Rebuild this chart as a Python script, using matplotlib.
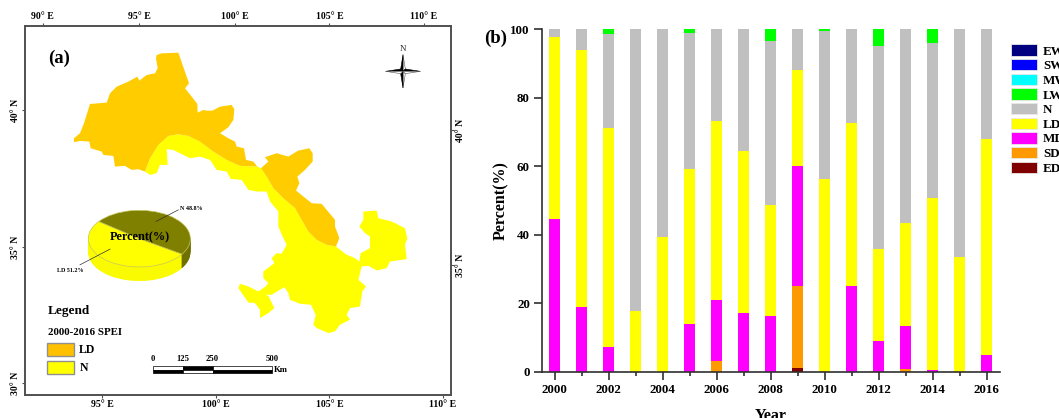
import matplotlib
matplotlib.use("Agg")
import matplotlib.pyplot as plt
from matplotlib.patches import Polygon, Rectangle, Patch

plt.rcParams['font.family'] = ['Liberation Serif', 'DejaVu Serif']
plt.rcParams['font.weight'] = 'bold'

W, H = 1059, 418
# ---------- bar chart data ----------
years = list(range(2000, 2017))
ED = [0, 0, 0, 0, 0, 0, 0, 0, 0, 1, 0, 0, 0, 0, 0, 0, 0]
SD = [0, 0, 0, 0, 0, 0, 3, 0, 0, 24, 0, 0, 0, 0.8, 0, 0, 0]
MD = [44.5, 18.8, 7.3, 0, 0, 13.9, 17.8, 17, 16.4, 35, 0, 25, 8.9, 12.5, 0.5, 0, 5]
LD = [53.3, 75.1, 63.9, 17.7, 39.3, 45.3, 52.3, 47.5, 32.3, 28, 56.3, 47.5, 26.9, 30, 50.2, 33.5, 63]
N = [2.2, 6.1, 27.4, 82.3, 60.7, 39.8, 26.9, 35.5, 47.9, 12, 43.3, 27.5, 59.2, 56.7, 45.4, 66.5, 32]
LW = [0, 0, 1.4, 0, 0, 1, 0, 0, 3.4, 0, 0.4, 0, 5, 0, 3.9, 0, 0]
MW = [0] * 17
SW = [0] * 17
EW = [0] * 17
class_names = ['ED', 'SD', 'MD', 'LD', 'N', 'LW', 'MW', 'SW', 'EW']
class_values = [ED, SD, MD, LD, N, LW, MW, SW, EW]
class_colors = ['#800000', '#FF9900', '#FF00FF', '#FFFF00', '#C0C0C0', '#00FF00', '#00FFFF', '#0000FF', '#000080']

# ---------- map data (traced outline coordinates) ----------
ld_west = [(470,165),(485,160),(535,158),(567,250),(555,265),(575,290),(592,312),(593,338),(610,330),(620,332),
           (638,332),(660,320),(695,315),(703,328),(700,360),(685,382),(660,400),(685,415),(705,425),(710,440),
           (732,445),(738,480),(760,485),(772,500),(720,498),(680,480),(640,455),(600,425),(565,408),(535,403),
           (505,408),(475,435),(450,475),(435,515),(415,508),(395,510),(375,498),(345,500),(340,468),(310,465),
           (305,455),(272,445),(268,425),(240,423),(222,427),(222,415),(240,400),(252,370),(270,312),(320,308),
           (330,280),(350,260),(385,245),(412,230),(418,242),(440,225),(465,220),(473,205),(468,175)]
ld_east = [(805,485),(795,472),(830,460),(865,470),(895,452),(928,445),(938,460),(938,485),(915,510),(892,530),
           (898,550),(888,572),(910,590),(935,610),(965,612),(980,630),(1005,660),(1005,680),(1018,715),(1008,740),
           (980,735),(950,720),(925,695),(905,660),(885,625),(850,595),(820,565),(800,530),(783,505)]
n_region = [(435,515),(450,475),(475,435),(505,408),(535,403),(565,408),(600,425),(640,455),(680,480),(720,498),
            (772,500),(783,505),(800,530),(820,565),(850,595),(885,625),(905,660),(925,695),(950,720),(980,735),
            (1008,740),(1040,765),(1065,775),(1078,785),(1082,760),(1110,745),(1110,710),(1095,700),(1078,680),
            (1090,660),(1090,635),(1130,632),(1135,655),(1175,665),(1215,685),(1222,715),(1215,735),(1220,778),
            (1170,785),(1160,805),(1130,812),(1105,798),(1085,800),(1075,840),(1098,860),(1087,875),(1080,920),
            (1050,925),(1040,945),(1050,960),(1020,975),(1005,995),(985,1000),(950,985),(940,975),(947,945),
            (933,915),(900,912),(870,900),(865,880),(853,862),(815,885),(795,885),(805,888),(823,925),(805,940),
            (780,955),(780,930),(765,910),(745,908),(715,865),(720,852),(745,860),(775,875),(797,860),(805,850),
            (790,835),(790,815),(823,790),(815,775),(830,760),(845,762),(860,735),(850,715),(835,680),(835,635),
            (810,605),(800,575),(770,575),(745,570),(725,540),(692,537),(680,515),(650,510),(630,480),(600,470),
            (570,475),(540,460),(520,450),(500,448),(503,495),(480,495),(470,520),(450,525)]
pie_values = [51.2, 48.8]
pie_colors = ['#FFFF00', '#808000']

bottom_lon_pos = [307, 648, 988, 1328]
bottom_lon_lab = ['95° E', '100° E', '105° E', '110° E']
top_lon_pos = [128, 417, 704, 988, 1272]
top_lon_lab = ['90° E', '95° E', '100° E', '105° E', '110° E']
left_lat_pos = [330, 742, 1150]
left_lat_lab = ['40° N', '35° N', '30° N']
right_lat_pos = [390, 797]
right_lat_lab = ['40° N', '35° N']
scale_pos = [458, 548, 638, 817]
scale_lab = ['0', '125', '250', '500']


def px_axes(left, top, right, bottom, **kw):
    return fig.add_axes([left / W, 1 - bottom / H, (right - left) / W, (bottom - top) / H], **kw)


fig = plt.figure(figsize=(W / 100, H / 100), dpi=100, facecolor='white')

# ---------- panel (a) ----------
ax = px_axes(24.5, 25.7, 451, 395)
FRAME = '#505050'
xl, yl = (73.5, 1353), (1186, 77)
ax.set_xlim(xl)
ax.set_ylim(yl)
for s in ax.spines.values():
    s.set_linewidth(1.4)
    s.set_color(FRAME)
ax.add_patch(Polygon(n_region, closed=True, fc='#FFFF00', ec='none'))
ax.add_patch(Polygon(ld_west, closed=True, fc='#FFCC00', ec='none'))
ax.add_patch(Polygon(ld_east, closed=True, fc='#FFCC00', ec='none'))

TICK = dict(length=2, width=0.8, color=FRAME, labelsize=7.0, pad=1.5)
ax.set_xticks(bottom_lon_pos, bottom_lon_lab)
ax.set_yticks(left_lat_pos, left_lat_lab, rotation=90, va='center')
ax.tick_params(**TICK)
axt = ax.twiny()
axt.set_xlim(xl)
axt.set_xticks(top_lon_pos, top_lon_lab)
axt.tick_params(**TICK)
axr = ax.twinx()
axr.set_ylim(yl)
axr.set_yticks(right_lat_pos, right_lat_lab, rotation=90, va='center')
axr.tick_params(**TICK)
for a in (axt, axr):
    for s in a.spines.values():
        s.set_visible(False)

ax.text(143, 176, '(a)', fontsize=13.5, va='center', ha='left')
# legend
ax.text(144, 933, 'Legend', fontsize=9.5, va='center', ha='left')
ax.text(143, 997, '2000-2016 SPEI', fontsize=7.8, va='center', ha='left')
ax.add_patch(Rectangle((142, 1030), 81, 39, fc='#FFC000', ec='#909090', lw=1))
ax.add_patch(Rectangle((142, 1085), 81, 39, fc='#FFFF00', ec='#909090', lw=1))
ax.text(238, 1050, 'LD', fontsize=8.5, va='center', ha='left')
ax.text(238, 1105, 'N', fontsize=8.5, va='center', ha='left')
# scale bar
for i in range(3):
    x0, x1 = scale_pos[i], scale_pos[i + 1]
    up, lo = ('white', 'black') if i != 1 else ('black', 'white')
    ax.add_patch(Rectangle((x0, 1099), x1 - x0, 10.5, fc=up, ec='black', lw=0.5))
    ax.add_patch(Rectangle((x0, 1109.5), x1 - x0, 10.5, fc=lo, ec='black', lw=0.5))
for p, l in zip(scale_pos, scale_lab):
    ax.text(p, 1079, l, fontsize=6.2, ha='center', va='center')
ax.text(843, 1112, 'Km', fontsize=6.2, ha='center', va='center')
# compass
cx, cy = 1209, 214
ax.text(cx, 146, 'N', fontsize=6.5, ha='center', va='center', fontweight='normal', color='#303030')
a, b, d = 50, 52, 7
for sy in (-1, 1):
    ax.add_patch(Polygon([(cx, cy + sy * a), (cx + d, cy + sy * d), (cx, cy)], fc='white', ec='#505050', lw=0.4))
    ax.add_patch(Polygon([(cx, cy + sy * a), (cx - d, cy + sy * d), (cx, cy)], fc='black', ec='black', lw=0.4))
for sx in (-1, 1):
    ax.add_patch(Polygon([(cx + sx * b, cy), (cx + sx * d, cy - d), (cx, cy)], fc='black', ec='black', lw=0.4))
    ax.add_patch(Polygon([(cx + sx * b, cy), (cx + sx * d, cy + d), (cx, cy)], fc='white', ec='#505050', lw=0.4))

# 3-D pie drawn in its own squashed axes
RX, RY, DEPTH = 153.0, 85.0, 42.0
pc_x, pc_y = 418.0, 716.0
pax = px_axes((pc_x - RX) / 3, (pc_y - RY) / 3, (pc_x + RX) / 3, (pc_y + RY + DEPTH) / 3)
pax.patch.set_alpha(0)
for off in range(int(DEPTH), 0, -2):
    pax.pie(pie_values, colors=['#FAFA00', '#707000'], startangle=142.6, center=(0, -off / RY), radius=1)
pax.pie(pie_values, colors=pie_colors, startangle=142.6, center=(0, 0), radius=1,
        wedgeprops=dict(edgecolor='#C8C860', linewidth=0.5))
pax.set_aspect('auto')
pax.set_xlim(-1, 1)
pax.set_ylim(-(RY + DEPTH) / RY, 1)
pax.axis('off')
lax = px_axes(24.5, 25.7, 451, 395)
lax.set_xlim(xl)
lax.set_ylim(yl)
lax.axis('off')
lax.plot([468, 535], [665, 630], color='#303030', lw=0.5)
lax.plot([330, 240], [748, 795], color='#303030', lw=0.5)
lax.text(575, 625, 'N 48.8%', fontsize=4.3, ha='center', va='center')
lax.text(212, 812, 'LD 51.2%', fontsize=4.3, ha='center', va='center')
lax.text(420, 711, 'Percent(%)', fontsize=8.8, ha='center', va='center')

# ---------- panel (b) ----------
bx = px_axes(541.7, 29.3, 999.6, 371.7)
bottom = [0.0] * len(years)
for name, vals, col in zip(class_names, class_values, class_colors):
    bx.bar(years, vals, width=0.407, bottom=bottom, color=col, linewidth=0)
    bottom = [p + q for p, q in zip(bottom, vals)]
bx.set_xlim(1999.52, 2016.48)
bx.set_ylim(0, 100)
for s in ('top', 'right'):
    bx.spines[s].set_visible(False)
for s in ('left', 'bottom'):
    bx.spines[s].set_linewidth(1.2)
    bx.spines[s].set_color('#303030')
bx.set_xticks(years[::2])
bx.set_xticks(years[1::2], minor=True)
bx.set_yticks(range(0, 101, 20))
bx.set_yticks(range(10, 100, 20), minor=True)
bx.tick_params(axis='both', which='major', length=5.5, width=1.2, color='#303030', labelsize=9.4, pad=3)
bx.tick_params(axis='x', which='minor', length=3, width=1.2, color='#303030')
bx.tick_params(axis='y', which='minor', length=0)
bx.set_xlabel('Year', fontsize=11.5, fontweight='bold', labelpad=0)
bx.xaxis.set_label_coords(0.5, (371.7 - 407.5) / 342.4, transform=bx.transAxes)
bx.set_ylabel('Percent(%)', fontsize=11.5, fontweight='bold')
bx.yaxis.set_label_coords((509.5 - 541.7) / 457.9, 0.5, transform=bx.transAxes)
fig.text(484 / W, 1 - 38.7 / H, '(b)', fontsize=13.5, va='center', ha='left')

handles = [Patch(fc=c, ec='#E8E8E8', lw=0.6, label=n) for n, c in zip(class_names, class_colors)][::-1]
fig.legend(handles=handles, loc='upper left', bbox_to_anchor=(1011 / W, 1 - 44.5 / H), frameon=False,
           borderpad=0, borderaxespad=0, fontsize=9.4, handlelength=2.0, handleheight=0.94,
           handletextpad=0.45, labelspacing=0.12)

fig.savefig('out.png', dpi=100, facecolor='white')
